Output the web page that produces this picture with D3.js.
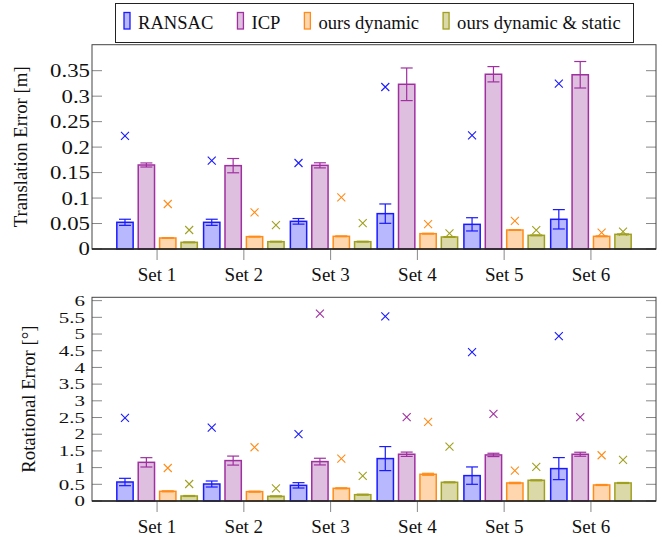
<!DOCTYPE html>
<html>
<head>
<meta charset="utf-8">
<script src="https://cdn.jsdelivr.net/npm/d3@7"></script>
<style>
  body { margin: 0; background: #fff; }
  svg { display: block; }
</style>
</head>
<body>
<svg id="chart" width="662" height="537"></svg>
<script>
// ---------- data ----------
const sets = ["Set 1", "Set 2", "Set 3", "Set 4", "Set 5", "Set 6"];
const seriesNames = ["RANSAC", "ICP", "ours dynamic", "ours dynamic & static"];

// Translation error [m]: bar means, error (±), cross markers
const transRansac = [0.0524, 0.0524, 0.0543, 0.0694, 0.0484, 0.0583];
const transIcp    = [0.1649, 0.1636, 0.1642, 0.3233, 0.3430, 0.3420];
const transDyn    = [0.0216, 0.0242, 0.0249, 0.0301, 0.0373, 0.0249];
const transDynSt  = [0.0131, 0.0144, 0.0144, 0.0236, 0.0268, 0.0288];

const transRansacErr = [0.006, 0.006, 0.0055, 0.019, 0.013, 0.019];
const transIcpErr    = [0.004, 0.014, 0.005, 0.032, 0.015, 0.026];
const transDynErr    = [0.0008, 0.0008, 0.0008, 0.0008, 0.0008, 0.0008];
const transDynStErr  = [0.0008, 0.0008, 0.0008, 0.0008, 0.0008, 0.0008];

const transRansacMax = [0.222, 0.1734, 0.1688, 0.318, 0.2232, 0.3246];
const transIcpMax    = [null, null, null, null, null, null];
const transDynMax    = [0.0883, 0.072, 0.1015, 0.049, 0.055, 0.032];
const transDynStMax  = [0.0373, 0.047, 0.051, 0.0308, 0.037, 0.034];

const transTicks = [0, 0.05, 0.1, 0.15, 0.2, 0.25, 0.3, 0.35];
const transTickLabels = ["0", "0.05", "0.1", "0.15", "0.2", "0.25", "0.3", "0.35"];

// Rotational error [deg]
const rotRansac = [0.569, 0.509, 0.469, 1.27, 0.76, 0.97];
const rotIcp    = [1.158, 1.21, 1.18, 1.40, 1.38, 1.40];
const rotDyn    = [0.29, 0.28, 0.38, 0.80, 0.54, 0.48];
const rotDynSt  = [0.15, 0.14, 0.19, 0.56, 0.62, 0.54];

const rotRansacErr = [0.11, 0.09, 0.08, 0.36, 0.26, 0.33];
const rotIcpErr    = [0.14, 0.135, 0.10, 0.065, 0.05, 0.06];
const rotDynErr    = [0.015, 0.015, 0.015, 0.03, 0.02, 0.015];
const rotDynStErr  = [0.015, 0.015, 0.015, 0.015, 0.015, 0.015];

const rotRansacMax = [2.49, 2.2, 2.0, 5.53, 4.46, 4.94];
const rotIcpMax    = [null, null, 5.61, 2.51, 2.61, 2.51];
const rotDynMax    = [0.988, 1.61, 1.27, 2.37, 0.91, 1.37];
const rotDynStMax  = [0.509, 0.38, 0.75, 1.63, 1.02, 1.23];

const rotTicks = [0, 0.5, 1, 1.5, 2, 2.5, 3, 3.5, 4, 4.5, 5, 5.5, 6];
const rotTickLabels = ["0", "0.5", "1", "1.5", "2", "2.5", "3", "3.5", "4", "4.5", "5", "5.5", "6"];

// ---------- styles ----------
const FONT = "'Liberation Serif', 'Times New Roman', Times, 'DejaVu Serif', serif";
const strokeColors = ["#1a1aff", "#a030a0", "#ff8c1a", "#a0a020"];
const fillColors   = ["#b8b8ff", "#dfbfdf", "#ffd6ae", "#dcd9a8"];

const svg = d3.select("#chart");

const x = d3.scaleLinear().domain([0.25, 6.75]).range([92, 656]);
const sub = d3.scaleBand().domain(seriesNames).range([-42.8, 42.8]).paddingInner(0.238).paddingOuter(0.119);

function txt(sel) {
  return sel.attr("font-family", FONT).attr("fill", "#111");
}

function panel(opts) {
  const { top, bottom, ymax, bars, errs, maxs, ticks, tickLabels, title, titleX, labelX, tickFont, tickScale } = opts;
  const y = d3.scaleLinear().domain([0, ymax]).range([bottom, top]);
  const g = svg.append("g");

  // y ticks (inside, both sides)
  const yt = g.append("g");
  ticks.forEach((t, i) => {
    yt.append("line").attr("x1", x.range()[0]).attr("x2", x.range()[0] + 10)
      .attr("y1", y(t)).attr("y2", y(t)).attr("stroke", "#888").attr("stroke-width", 1);
    yt.append("line").attr("x1", x.range()[1] - 10).attr("x2", x.range()[1])
      .attr("y1", y(t)).attr("y2", y(t)).attr("stroke", "#888").attr("stroke-width", 1);
    txt(yt.append("text"))
      .attr("transform", `translate(${labelX},${y(t) + tickFont * 0.34}) scale(${tickScale},1)`)
      .attr("text-anchor", "end")
      .attr("font-size", tickFont)
      .text(tickLabels[i]);
  });

  // x ticks (outside, bottom)
  sets.forEach((s, i) => {
    g.append("line").attr("x1", x(i + 1)).attr("x2", x(i + 1))
      .attr("y1", bottom).attr("y2", bottom + 11).attr("stroke", "#888").attr("stroke-width", 1);
    txt(g.append("text")).attr("x", x(i + 1)).attr("y", bottom + 32)
      .attr("text-anchor", "middle").attr("font-size", 19).text(s);
  });

  // bars
  seriesNames.forEach((name, k) => {
    const bw = sub.bandwidth();
    const sg = g.append("g");
    bars[k].forEach((v, i) => {
      const cx = x(i + 1) + sub(name) + bw / 2;
      sg.append("rect")
        .attr("x", cx - bw / 2).attr("y", y(v))
        .attr("width", bw).attr("height", y(0) - y(v))
        .attr("fill", fillColors[k]).attr("stroke", strokeColors[k]).attr("stroke-width", 1.5);
    });
    // error bars
    errs[k].forEach((e, i) => {
      const v = bars[k][i];
      const cx = x(i + 1) + sub(name) + bw / 2;
      const y1 = y(v + e), y2 = y(v - e);
      sg.append("line").attr("x1", cx).attr("x2", cx).attr("y1", y1).attr("y2", y2)
        .attr("stroke", strokeColors[k]).attr("stroke-width", 1.2);
      [y1, y2].forEach(yy => {
        sg.append("line").attr("x1", cx - 6).attr("x2", cx + 6).attr("y1", yy).attr("y2", yy)
          .attr("stroke", strokeColors[k]).attr("stroke-width", 1.2);
      });
    });
    // crosses
    maxs[k].forEach((m, i) => {
      if (m == null) return;
      const cx = x(i + 1) + sub(name) + bw / 2;
      const cy = y(m), r = 4;
      sg.append("path")
        .attr("d", `M${cx - r},${cy - r}L${cx + r},${cy + r}M${cx - r},${cy + r}L${cx + r},${cy - r}`)
        .attr("stroke", strokeColors[k]).attr("stroke-width", 1.1).attr("fill", "none");
    });
  });

  // frame
  g.append("rect").attr("x", x.range()[0]).attr("y", top)
    .attr("width", x.range()[1] - x.range()[0]).attr("height", bottom - top)
    .attr("fill", "none").attr("stroke", "#444").attr("stroke-width", 1);
  g.append("line").attr("x1", x.range()[0]).attr("x2", x.range()[1])
    .attr("y1", bottom).attr("y2", bottom).attr("stroke", "#222").attr("stroke-width", 1.5);

  // title
  txt(g.append("text"))
    .attr("transform", `translate(${titleX},${(top + bottom) / 2}) rotate(-90)`)
    .attr("text-anchor", "middle").attr("font-size", 18.8).text(title);
}

panel({
  top: 44.7, bottom: 249, ymax: 0.401,
  bars: [transRansac, transIcp, transDyn, transDynSt],
  errs: [transRansacErr, transIcpErr, transDynErr, transDynStErr],
  maxs: [transRansacMax, transIcpMax, transDynMax, transDynStMax],
  ticks: transTicks, tickLabels: transTickLabels,
  title: "Translation Error [m]", titleX: 26.5, labelX: 90, tickFont: 19, tickScale: 1.2
});

panel({
  top: 297.3, bottom: 501, ymax: 6.1,
  bars: [rotRansac, rotIcp, rotDyn, rotDynSt],
  errs: [rotRansacErr, rotIcpErr, rotDynErr, rotDynStErr],
  maxs: [rotRansacMax, rotIcpMax, rotDynMax, rotDynStMax],
  ticks: rotTicks, tickLabels: rotTickLabels,
  title: "Rotational Error [°]", titleX: 35, labelX: 85, tickFont: 15.5, tickScale: 1.35
});

// ---------- legend ----------
const lg = svg.append("g");
lg.append("rect").attr("x", 115.5).attr("y", 3.5).attr("width", 518).attr("height", 39)
  .attr("fill", "#fff").attr("stroke", "#222").attr("stroke-width", 1);
let lx = 124;
seriesNames.forEach((name, k) => {
  lg.append("rect").attr("x", lx).attr("y", 12.5).attr("width", 6).attr("height", 16.5)
    .attr("fill", fillColors[k]).attr("stroke", strokeColors[k]).attr("stroke-width", 1.3);
  const t = txt(lg.append("text")).attr("x", lx + 14).attr("y", 28.5)
    .attr("font-size", 18.6).text(name);
  lx += 14 + t.node().getComputedTextLength() + 24;
});
</script>
</body>
</html>
